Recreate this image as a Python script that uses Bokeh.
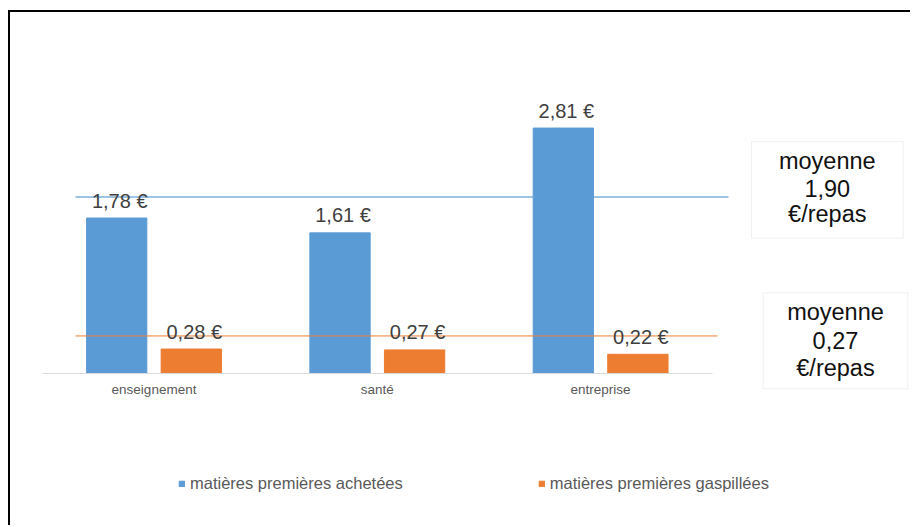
import numpy as np
from bokeh.plotting import figure
from bokeh.models import (Range1d, FixedTicker, ColumnDataSource, Legend,
                          LegendItem, BoxAnnotation, Label)
from bokeh.core.properties import value
from bokeh.embed import file_html
from bokeh.resources import INLINE

# ---- data ----
categories = ["enseignement", "santé", "entreprise"]
achetees = [1.78, 1.61, 2.81]
gaspillees = [0.28, 0.27, 0.22]
series_names = ["matières premières achetées", "matières premières gaspillées"]
moyennes = [1.90, 0.27]
niveaux_traits = [2.02, 0.43]   # heights at which the mean lines are drawn

# ---- styles / layout ----
BLUE = "#5B9BD5"
ORANGE = "#ED7D31"
FONT = "Liberation Sans"

def euro(v):
    return f"{v:.2f}".replace(".", ",") + " €"

idx = np.arange(len(categories))
off = 0.167
bw = 0.27

p = figure(width=902, height=515, output_backend="svg", toolbar_location=None,
           x_range=Range1d(-0.6516, 3.3878), y_range=Range1d(-1.4539, 4.1557),
           min_border_left=0, min_border_right=0, min_border_top=0,
           min_border_bottom=25)
p.margin = (10, 0, 0, 8)
p.styles = {"box-shadow": "inset 2px 2px 0 0 #000000"}
p.border_fill_color = None
p.background_fill_color = None
p.outline_line_color = None
p.grid.visible = False
p.yaxis.visible = False

ax = p.xaxis[0]
ax.fixed_location = 0
ax.bounds = (-0.5, 2.5)
ax.ticker = FixedTicker(ticks=list(idx))
ax.major_label_overrides = {int(i): c for i, c in zip(idx, categories)}
ax.axis_line_color = "#D9D9D9"
ax.axis_line_width = 1
ax.major_tick_line_color = None
ax.minor_tick_line_color = None
ax.major_tick_out = 0
ax.major_tick_in = 0
ax.major_label_standoff = 8
ax.major_label_text_font = FONT
ax.major_label_text_font_size = "13.5px"
ax.major_label_text_color = "#595959"

# blue mean line (behind bars)
p.segment(x0=[-0.3515], x1=[2.5728], y0=[niveaux_traits[0]], y1=[niveaux_traits[0]],
          line_color="#9DC3E6", line_width=2)

src_a = ColumnDataSource(dict(x=idx - off, top=achetees,
                              lab=[euro(v) for v in achetees]))
src_g = ColumnDataSource(dict(x=idx + off, top=gaspillees,
                              lab=[euro(v) for v in gaspillees]))
r1 = p.vbar(x="x", top="top", width=bw, source=src_a, fill_color=BLUE,
            line_color=BLUE)
r2 = p.vbar(x="x", top="top", width=bw, source=src_g, fill_color=ORANGE,
            line_color=ORANGE)

# orange mean line (over bars)
p.segment(x0=[-0.3515], x1=[2.5235], y0=[niveaux_traits[1]], y1=[niveaux_traits[1]],
          line_color=ORANGE, line_width=1)

for src in (src_a, src_g):
    p.text(x="x", y="top", text="lab", source=src, text_align="center",
           text_baseline="alphabetic", y_offset=-17.5, x_offset=3,
           text_font=value(FONT), text_font_size="20px", text_color="#404040")

# mean boxes
boxes = [(2.6758, 3.3551, 1.5489, 2.6560, 3.0152, [2.4350, 2.1214, 1.8237]),
         (2.7282, 3.3757, -0.1752, 0.9239, 3.0519, [0.6984, 0.3778, 0.0687])]
for m, (l, r, b, t, cx, ys) in zip(moyennes, boxes):
    p.add_layout(BoxAnnotation(left=l, right=r, bottom=b, top=t,
                               fill_color="white", fill_alpha=1,
                               line_color="#D0D0D0", line_width=1))
    for txt, yy in zip(["moyenne", f"{m:.2f}".replace(".", ","), "€/repas"], ys):
        p.add_layout(Label(x=cx, y=yy, text=txt, text_align="center",
                           text_baseline="alphabetic", text_font=FONT,
                           text_font_size="23.5px", text_color="#111111"))

legend = Legend(items=[LegendItem(label=series_names[0], renderers=[r1]),
                       LegendItem(label=series_names[1], renderers=[r2])],
                location=(170, 7), orientation="horizontal",
                glyph_width=7, glyph_height=7, label_standoff=5, spacing=135,
                label_height=18, padding=0, margin=0,
                border_line_color=None, background_fill_alpha=0,
                label_text_font=FONT, label_text_font_size="16.5px",
                label_text_color="#595959")
p.add_layout(legend)

open("out.html", "w").write(file_html(p, INLINE))
